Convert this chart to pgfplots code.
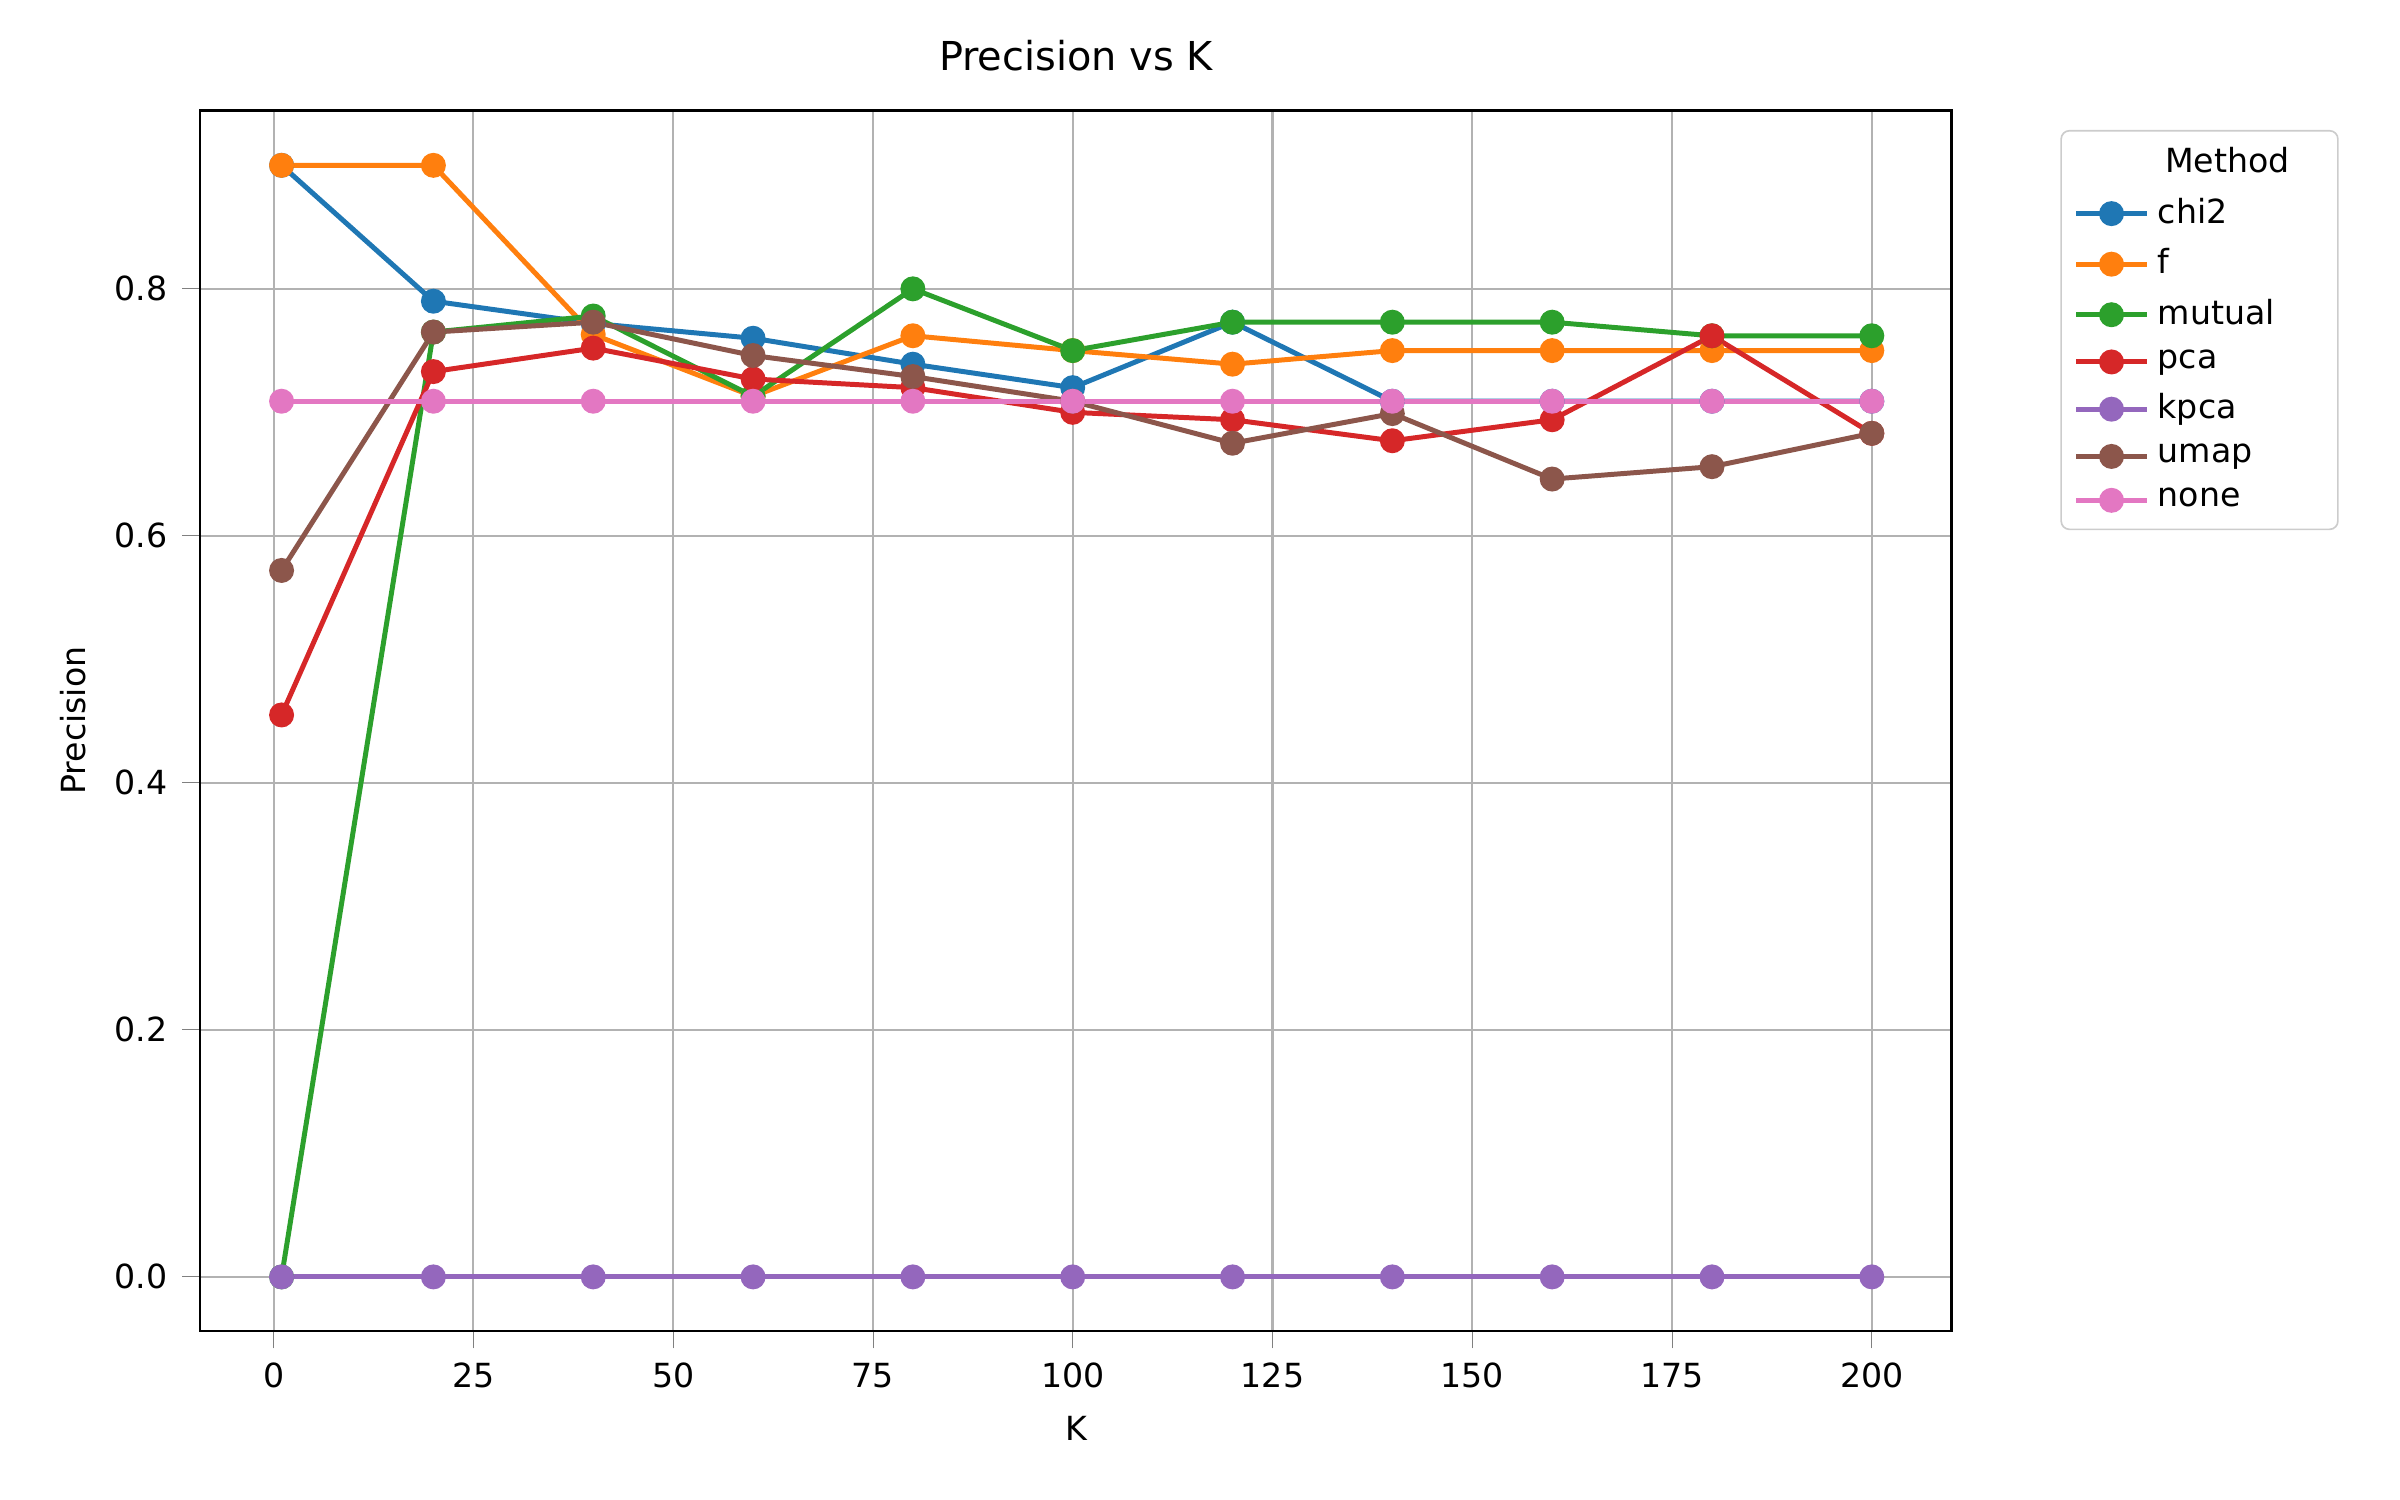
\documentclass[border=0pt]{standalone}
\usepackage{pgfplots}
\pgfplotsset{compat=1.18}
\usepackage{fontspec}
\setmainfont{DejaVu Sans}
\definecolor{c1}{HTML}{1F77B4}\definecolor{c2}{HTML}{FF7F0E}\definecolor{c3}{HTML}{2CA02C}
\definecolor{c4}{HTML}{D62728}\definecolor{c5}{HTML}{9467BD}\definecolor{c6}{HTML}{8C564B}\definecolor{c7}{HTML}{E377C2}
\begin{document}
\begin{tikzpicture}
\begin{axis}[name=ax, scale only axis, width=422pt, height=294pt,
 xmin=-9.2, xmax=210, ymin=-0.0436, ymax=0.9445,
 xtick={0,25,...,200}, ytick={0,0.2,0.4,0.6,0.8},
 yticklabel style={/pgf/number format/fixed,/pgf/number format/precision=1,/pgf/number format/fixed zerofill},
 /pgf/number format/assume math mode=true,
 tick label style={font=\fontsize{8}{10}\selectfont}, label style={font=\fontsize{8}{10}\selectfont},
 title style={font=\fontsize{9.6}{11}\selectfont}, title={Precision vs K},
 xlabel={K}, ylabel={Precision},
 grid=major, grid style={color=black!30, line width=0.5pt},
 tick align=outside, xtick pos=bottom, ytick pos=left, axis line style={line width=0.6pt},
 legend style={at={(1.062,0.984)}, anchor=north west, font=\fontsize{8}{12.5}\selectfont, draw=black!20, rounded corners=2pt, cells={anchor=west}, row sep=0.6pt},
 every axis plot/.append style={line width=1.2pt, mark=*, mark size=2.4pt},
]
\addlegendimage{empty legend}\addlegendentry{\hspace{-0.6em}\makebox[5.4em][c]{Method}}
\addplot[c1, mark options={fill=c1}] coordinates {(1,0.9)(20,0.79)(40,0.772)(60,0.76)(80,0.739)(100,0.72)(120,0.773)(140,0.709)(160,0.709)(180,0.709)(200,0.709)};
\addlegendentry{chi2}
\addplot[c2, mark options={fill=c2}] coordinates {(1,0.9)(20,0.9)(40,0.763)(60,0.713)(80,0.762)(100,0.75)(120,0.739)(140,0.75)(160,0.75)(180,0.75)(200,0.75)};
\addlegendentry{f}
\addplot[c3, mark options={fill=c3}] coordinates {(1,0)(20,0.765)(40,0.778)(60,0.713)(80,0.8)(100,0.75)(120,0.773)(140,0.773)(160,0.773)(180,0.762)(200,0.762)};
\addlegendentry{mutual}
\addplot[c4, mark options={fill=c4}] coordinates {(1,0.455)(20,0.733)(40,0.752)(60,0.727)(80,0.72)(100,0.70)(120,0.694)(140,0.677)(160,0.694)(180,0.762)(200,0.683)};
\addlegendentry{pca}
\addplot[c5, mark options={fill=c5}] coordinates {(1,0)(20,0)(40,0)(60,0)(80,0)(100,0)(120,0)(140,0)(160,0)(180,0)(200,0)};
\addlegendentry{kpca}
\addplot[c6, mark options={fill=c6}] coordinates {(1,0.572)(20,0.765)(40,0.773)(60,0.746)(80,0.729)(100,0.709)(120,0.675)(140,0.699)(160,0.646)(180,0.656)(200,0.683)};
\addlegendentry{umap}
\addplot[c7, mark options={fill=c7}] coordinates {(1,0.709)(20,0.709)(40,0.709)(60,0.709)(80,0.709)(100,0.709)(120,0.709)(140,0.709)(160,0.709)(180,0.709)(200,0.709)};
\addlegendentry{none}
\end{axis}
\path ([shift={(-48.2pt,-40.7pt)}]ax.south west) rectangle ([shift={(530pt,320.6pt)}]ax.south west);
\end{tikzpicture}
\end{document}
